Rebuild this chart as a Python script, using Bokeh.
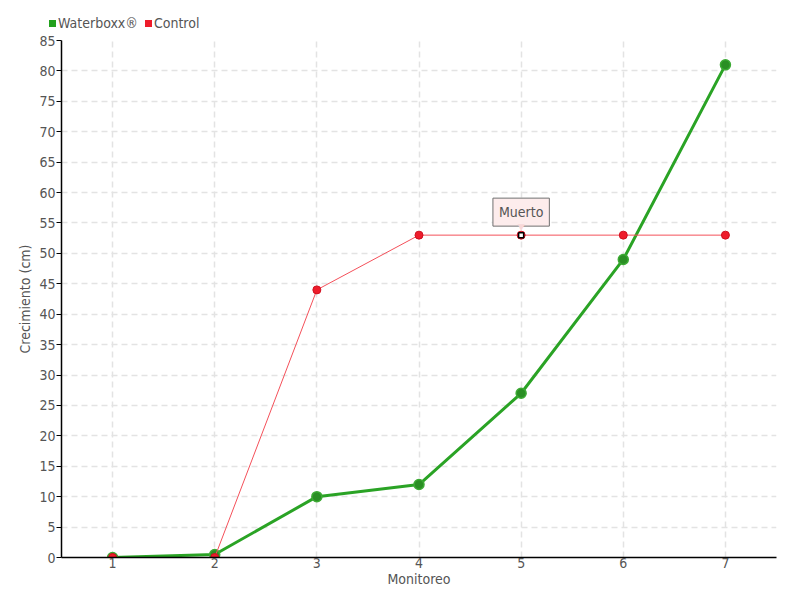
from bokeh.plotting import figure
from bokeh.models import Range1d, Label, FixedTicker, Div
from bokeh.layouts import column
from bokeh.embed import file_html
from bokeh.resources import INLINE

monitoreo = [1, 2, 3, 4, 5, 6, 7]
waterboxx = [0, 0.5, 10, 12, 27, 49, 81]
control = [0, 0, 44, 53, 53, 53, 53]
y_ticks = list(range(0, 90, 5))
series_names = ["Waterboxx\u00AE", "Control"]
muerto_x = 5
muerto_y = 53

FONT = "'DejaVu Sans Condensed', Roboto, sans-serif"
TXT = "#555555"
GREEN = "#22a11d"
RED = "#ee1c2b"

p = figure(frame_width=715, frame_height=517, output_backend="svg", toolbar_location=None,
           x_range=Range1d(0.5, 7.5), y_range=Range1d(0, 85),
           min_border_left=61, min_border_right=8, min_border_top=8, min_border_bottom=27)
p.outline_line_color = None
p.background_fill_color = "white"

for ax in (p.xaxis[0], p.yaxis[0]):
    ax.axis_line_color = "black"
    ax.axis_line_width = 1.5
    ax.major_label_text_font = FONT
    ax.major_label_text_font_size = "14px"
    ax.major_label_text_color = TXT
    ax.axis_label_text_font = FONT
    ax.axis_label_text_font_size = "14px"
    ax.axis_label_text_color = TXT
    ax.axis_label_text_font_style = "normal"
    ax.minor_tick_line_color = None

p.xaxis.ticker = FixedTicker(ticks=monitoreo)
p.yaxis.ticker = FixedTicker(ticks=y_ticks)
p.xaxis.major_tick_line_color = None
p.xaxis.major_tick_out = 0
p.xaxis.major_label_standoff = 0
p.xaxis.axis_label = "Monitoreo"
p.xaxis.axis_label_standoff = 0
p.yaxis.axis_label = "Crecimiento (cm)"
p.yaxis.major_tick_out = 5
p.yaxis.major_tick_in = 0
p.yaxis.major_tick_line_color = "black"
p.yaxis.major_label_standoff = 1
p.yaxis.axis_label_standoff = 3

p.xgrid.grid_line_color = "#e3e3e3"
p.ygrid.grid_line_color = "#e3e3e3"
p.xgrid.grid_line_dash = "6 4"
p.ygrid.grid_line_dash = "6 4"
p.xgrid.grid_line_width = 1.5
p.ygrid.grid_line_width = 1.5

p.line(monitoreo, waterboxx, line_color="#2aa325", line_width=3)
p.scatter(monitoreo, waterboxx, size=10, fill_color="#2a8f24", line_color="#3caa34", line_width=1.5)
p.line(monitoreo, control, line_color="#f4505a", line_width=1)
p.scatter(monitoreo, control, size=8, fill_color=RED, line_color="#d01020", line_width=1)

p.scatter([muerto_x], [muerto_y], marker="square", size=5, fill_color="white", line_color="black", line_width=1.5)

# callout
lab = Label(x=muerto_x, y=muerto_y, text="Muerto", x_units="data", y_units="data",
            x_offset=0, y_offset=9, text_align="center", text_baseline="bottom",
            text_font=FONT, text_font_size="14px", text_color=TXT,
            background_fill_color="#fdecec", border_line_color="#707070", border_line_width=1,
            padding=6)
p.add_layout(lab)
tri = Label(x=muerto_x, y=muerto_y, text="\u25BC", x_units="data", y_units="data",
            x_offset=0, y_offset=3, text_align="center", text_baseline="bottom",
            text_font="DejaVu Sans", text_font_size="9px", text_color="#f8d8d8")
p.add_layout(tri)

# legend as HTML above the plot
def item(color, name):
    return ('<span style="display:inline-block;width:7px;height:7px;background:%s;'
            'margin-right:2px;vertical-align:middle;"></span>'
            '<span style="vertical-align:middle;margin-right:7px;">%s</span>' % (color, name))

legend_html = ('<div style="margin-left:49px;margin-top:14px;white-space:nowrap;'
               'font-family:%s;font-size:14px;line-height:16px;color:%s;">%s%s</div>'
               % (FONT.replace("'", ""), TXT, item(GREEN, series_names[0]), item(RED, series_names[1])))
legend_div = Div(text=legend_html, width=784, height=32, margin=0)

layout = column(legend_div, p, spacing=0)
open("out.html", "w").write(file_html(layout, INLINE))
